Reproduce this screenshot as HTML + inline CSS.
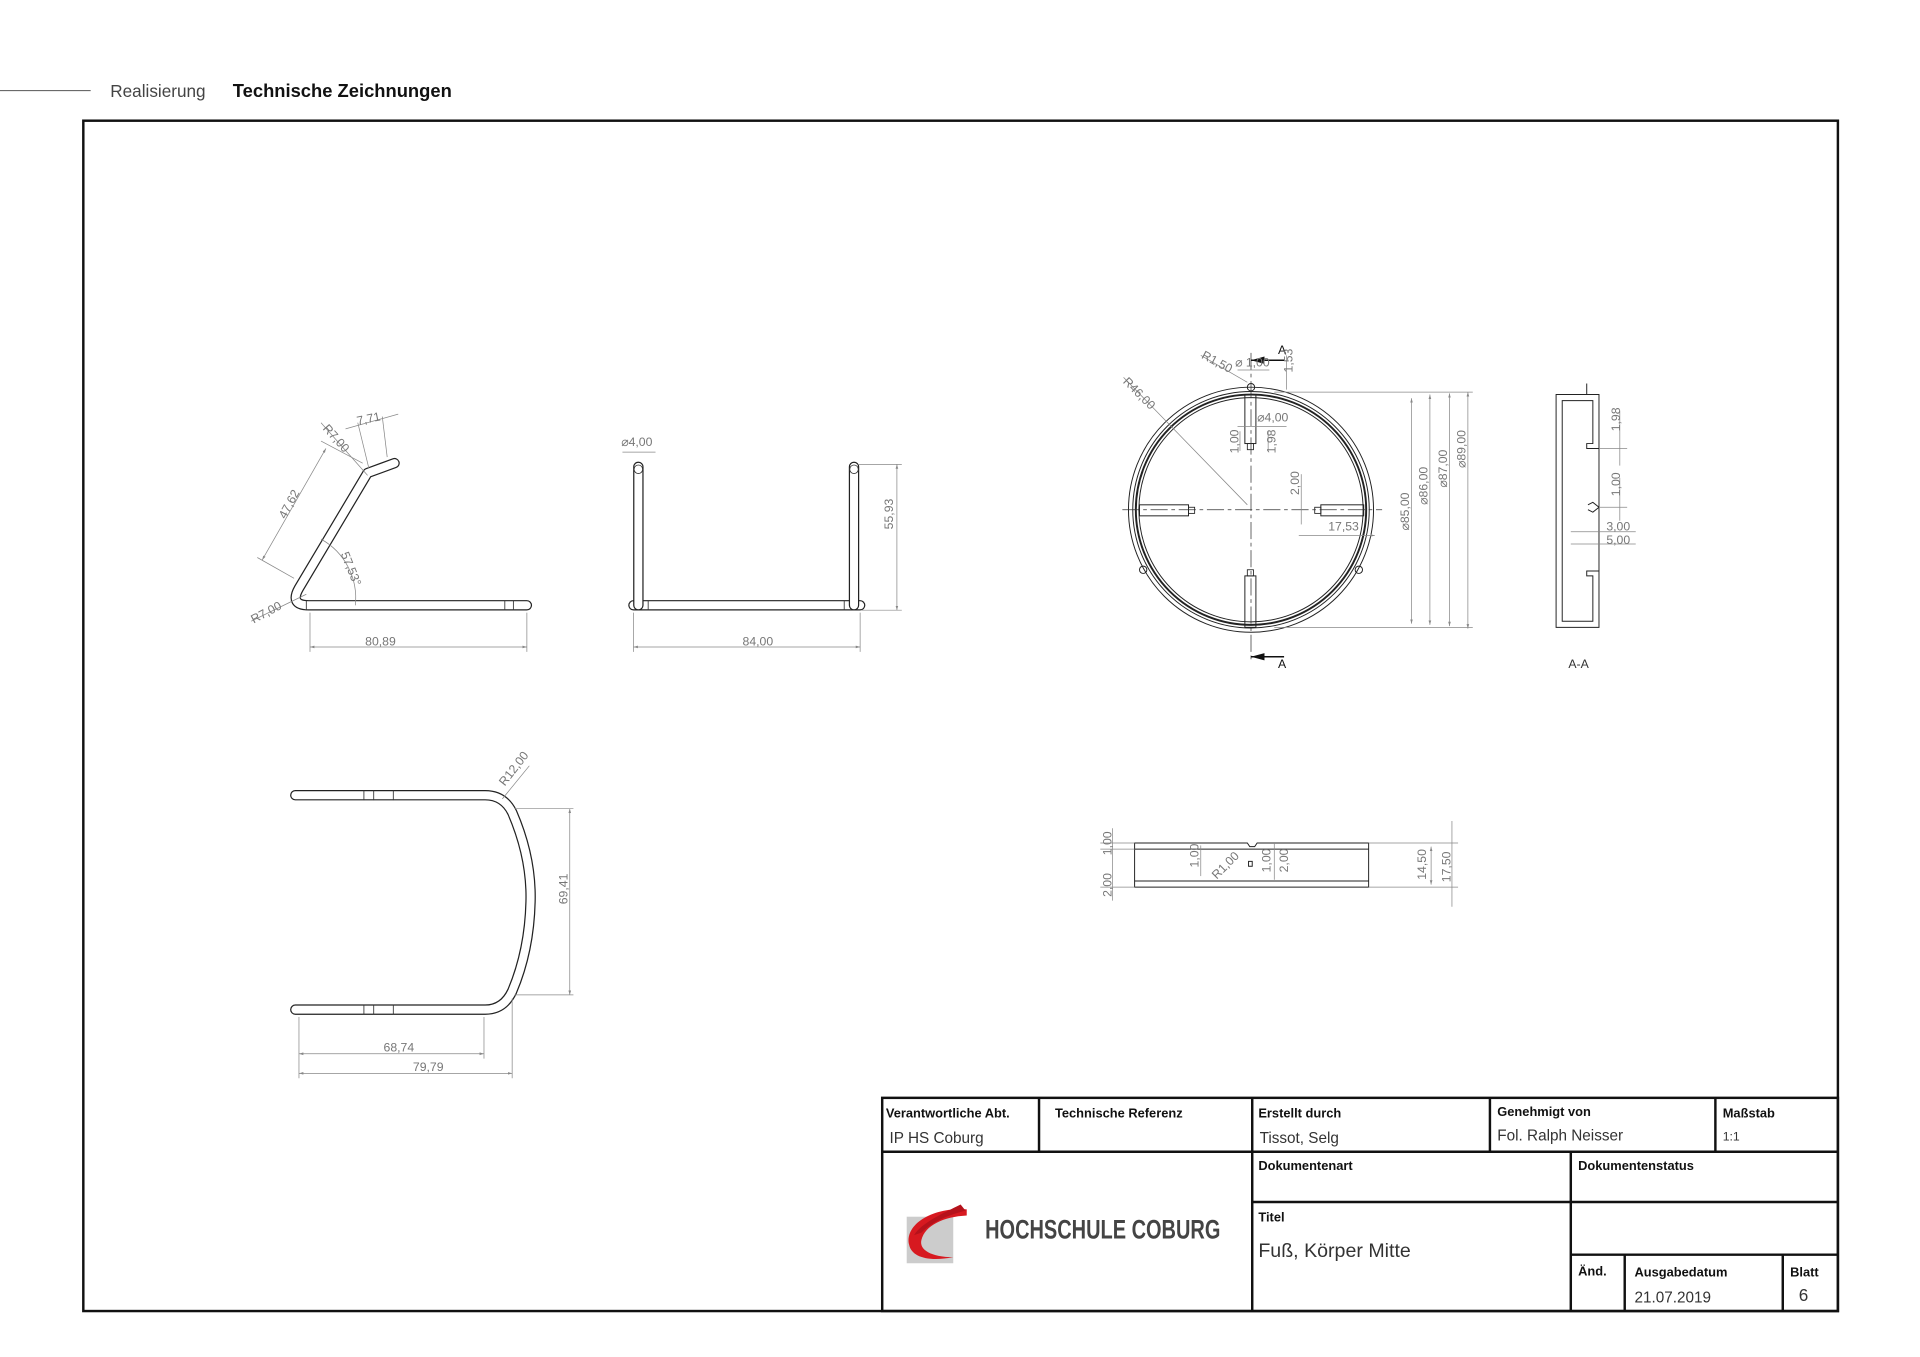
<!DOCTYPE html>
<html><head><meta charset="utf-8"><style>
html,body{margin:0;padding:0;background:#fff}
svg{display:block}
text{font-family:"Liberation Sans",sans-serif}
.d{fill:#777;font-size:10px}
.dl{stroke:#888;stroke-width:.6;fill:none}
.tb{stroke:#111;stroke-width:2;fill:none}
.lab{font-size:10.5px;font-weight:bold;fill:#111}
.val{font-size:12.5px;fill:#333}
</style></head><body>
<svg width="1920" height="1357" viewBox="0 0 1567 1107.5" xmlns="http://www.w3.org/2000/svg">
<defs>
<marker id="a" viewBox="0 0 10 10" refX="10" refY="5" markerWidth="6" markerHeight="6" orient="auto-start-reverse"><path d="M0,2L10,5L0,8z" fill="#888"/></marker>
</defs>
<line x1="0" y1="74" x2="74" y2="74" stroke="#555" stroke-width="0.8"/>
<text x="90" y="79" font-size="14" fill="#444">Realisierung</text>
<text x="190" y="79" font-size="15" font-weight="bold" fill="#111">Technische Zeichnungen</text>
<rect x="68" y="98.5" width="1432" height="971.5" fill="none" stroke="#111" stroke-width="2"/>

<g fill="none" stroke-linecap="round" stroke-linejoin="round">
<path d="M430 494 L252 494 Q236 494 244 480 L300 386 L322 378" stroke="#222" stroke-width="8.5"/>
<path d="M430 494 L252 494 Q236 494 244 480 L300 386 L322 378" stroke="#fff" stroke-width="6.5"/>
<path d="M517 494 L702 494" stroke="#222" stroke-width="8.5"/>
<path d="M517 494 L702 494" stroke="#fff" stroke-width="6.5"/>
<path d="M521 381 L521 494 M697 381 L697 494" stroke="#222" stroke-width="8.5"/>
<path d="M521 381 L521 494 M697 381 L697 494" stroke="#fff" stroke-width="6.5"/>
<path d="M241 649 L396 649 Q411 649 418 663 Q434 700 433 736 Q432 776 418 809 Q411 824 396 824 L241 824" stroke="#222" stroke-width="8.5"/>
<path d="M241 649 L396 649 Q411 649 418 663 Q434 700 433 736 Q432 776 418 809 Q411 824 396 824 L241 824" stroke="#fff" stroke-width="6.5"/>
</g>
<g stroke="#333" stroke-width=".7">
<line x1="412" y1="490" x2="412" y2="498"/><line x1="419" y1="490" x2="419" y2="498"/>
<line x1="250" y1="490" x2="250" y2="498"/><line x1="529" y1="490" x2="529" y2="498"/><line x1="689" y1="490" x2="689" y2="498"/>
<line x1="297" y1="645" x2="297" y2="653"/><line x1="305" y1="645" x2="305" y2="653"/><line x1="321" y1="645" x2="321" y2="653"/>
<line x1="297" y1="820" x2="297" y2="828"/><line x1="305" y1="820" x2="305" y2="828"/><line x1="321" y1="820" x2="321" y2="828"/>
<circle cx="521" cy="383" r="3.5" fill="none"/><circle cx="697" cy="383" r="3.5" fill="none"/>
</g>
<g class="dl">
<line x1="253" y1="500" x2="253" y2="532"/><line x1="430" y1="500" x2="430" y2="532"/>
<line x1="253" y1="528" x2="430" y2="528" marker-start="url(#a)" marker-end="url(#a)"/>
<line x1="240" y1="472" x2="210" y2="455"/><line x1="296" y1="378" x2="262" y2="360"/>
<line x1="214" y1="457" x2="266" y2="366" marker-start="url(#a)" marker-end="url(#a)"/>
<line x1="301" y1="382" x2="292" y2="345"/><line x1="316" y1="373" x2="312" y2="340"/>
<line x1="282" y1="350" x2="325" y2="338"/>
<line x1="262" y1="345" x2="300" y2="388"/>
<line x1="205" y1="507" x2="250" y2="485"/>
<path d="M262 440 A55 55 0 0 1 290 494"/>
</g>
<text class="d" x="298" y="527">80,89</text>
<text class="d" transform="translate(233,424) rotate(-62)">47,62</text>
<text class="d" x="292" y="347" transform="rotate(-12 292 347)">7,71</text>
<text class="d" transform="translate(263,350) rotate(48)">R7,00</text>
<text class="d" transform="translate(278,452) rotate(68)">57,53°</text>
<text class="d" transform="translate(207,509) rotate(-28)">R7,00</text>
<g class="dl">
<line x1="517" y1="500" x2="517" y2="532"/><line x1="702" y1="500" x2="702" y2="532"/>
<line x1="517" y1="528" x2="702" y2="528" marker-start="url(#a)" marker-end="url(#a)"/>
<line x1="700" y1="379" x2="736" y2="379"/><line x1="703" y1="498" x2="736" y2="498"/>
<line x1="732" y1="379" x2="732" y2="498" marker-start="url(#a)" marker-end="url(#a)"/>
<line x1="508" y1="369" x2="535" y2="369"/>
</g>
<text class="d" x="606" y="527">84,00</text>
<text class="d" transform="translate(729,432) rotate(-90)">55,93</text>
<text class="d" x="507" y="364">⌀4,00</text>
<g class="dl">
<line x1="420" y1="660" x2="468" y2="660"/><line x1="420" y1="812" x2="468" y2="812"/>
<line x1="465" y1="660" x2="465" y2="812" marker-start="url(#a)" marker-end="url(#a)"/>
<line x1="244" y1="830" x2="244" y2="880"/><line x1="395" y1="830" x2="395" y2="864"/><line x1="418" y1="815" x2="418" y2="880"/>
<line x1="244" y1="860" x2="395" y2="860" marker-start="url(#a)" marker-end="url(#a)"/>
<line x1="244" y1="876" x2="418" y2="876" marker-start="url(#a)" marker-end="url(#a)"/>
<line x1="410" y1="652" x2="432" y2="625"/>
</g>
<text class="d" transform="translate(463,738) rotate(-90)">69,41</text>
<text class="d" x="313" y="858">68,74</text>
<text class="d" x="337" y="874">79,79</text>
<text class="d" transform="translate(412,642) rotate(-52)">R12,00</text>

<g fill="none" stroke="#222">
<circle cx="1021" cy="416" r="100" stroke-width=".8"/>
<circle cx="1021" cy="416" r="96.5" stroke-width=".8"/>
<circle cx="1021" cy="416" r="94" stroke-width="1.6"/>
<circle cx="1021" cy="416" r="91.5" stroke-width=".8"/>
<rect x="1016" y="322" width="9" height="40" stroke-width=".8"/>
<rect x="1018" y="362" width="5" height="5" stroke-width=".7"/>
<rect x="1016" y="470" width="9" height="42" stroke-width=".8"/>
<rect x="1018" y="465" width="5" height="5" stroke-width=".7"/>
<rect x="930" y="412" width="40" height="9" stroke-width=".8"/>
<rect x="970" y="414" width="5" height="5" stroke-width=".7"/>
<rect x="1078" y="412" width="35" height="9" stroke-width=".8"/>
<rect x="1073" y="414" width="5" height="5" stroke-width=".7"/>
<circle cx="1021" cy="316" r="3" stroke-width=".8"/>
<circle cx="933" cy="465" r="3" stroke-width=".8"/>
<circle cx="1109" cy="465" r="3" stroke-width=".8"/>
</g>
<g stroke="#333" stroke-width=".6" stroke-dasharray="14 3 3 3" fill="none">
<line x1="1021" y1="288" x2="1021" y2="540"/>
<line x1="916" y1="416" x2="1128" y2="416"/>
</g>
<g stroke="#111" stroke-width="1.3"><path d="M1021 294 L1048 294"/><path d="M1021 536 L1048 536"/></g>
<path d="M1021 294 L1032 291 L1032 297z M1021 536 L1032 533 L1032 539z" fill="#111"/>
<text x="1043" y="289" font-size="10" fill="#111">A</text>
<text x="1043" y="545" font-size="10" fill="#111">A</text>
<g class="dl">
<line x1="1040" y1="320" x2="1202" y2="320"/><line x1="1040" y1="512" x2="1202" y2="512"/>
<line x1="1152" y1="325" x2="1152" y2="509" marker-start="url(#a)" marker-end="url(#a)"/>
<line x1="1167" y1="322" x2="1167" y2="510" marker-start="url(#a)" marker-end="url(#a)"/>
<line x1="1183" y1="321" x2="1183" y2="511" marker-start="url(#a)" marker-end="url(#a)"/>
<line x1="1198" y1="320" x2="1198" y2="513" marker-start="url(#a)" marker-end="url(#a)"/>
<line x1="917" y1="308" x2="1018" y2="412"/>
<line x1="980" y1="290" x2="1018" y2="312"/>
<line x1="1050" y1="290" x2="1050" y2="318"/>
<line x1="1010" y1="302" x2="1036" y2="302"/>
<line x1="1010" y1="348" x2="1050" y2="348"/>
<line x1="1012" y1="368" x2="1012" y2="352"/><line x1="1035" y1="368" x2="1035" y2="352"/>
<line x1="1062" y1="387" x2="1062" y2="428"/>
<line x1="1060" y1="437" x2="1122" y2="437" marker-end="url(#a)"/>
</g>
<text class="d" transform="translate(1150,433) rotate(-90)">⌀85,00</text>
<text class="d" transform="translate(1165,412) rotate(-90)">⌀86,00</text>
<text class="d" transform="translate(1181,398) rotate(-90)">⌀87,00</text>
<text class="d" transform="translate(1196,382) rotate(-90)">⌀89,00</text>
<text class="d" transform="translate(916,312) rotate(45)">R46,00</text>
<text class="d" transform="translate(980,292) rotate(28)">R1,50</text>
<text class="d" x="1008" y="299">⌀ 1,00</text>
<text class="d" transform="translate(1055,304) rotate(-90)">1,53</text>
<text class="d" x="1026" y="344">⌀4,00</text>
<text class="d" transform="translate(1011,370) rotate(-90)">1,00</text>
<text class="d" transform="translate(1041,370) rotate(-90)">1,98</text>
<text class="d" transform="translate(1060,404) rotate(-90)">2,00</text>
<text class="d" x="1084" y="433">17,53</text>

<g fill="none" stroke="#222" stroke-width=".8">
<path d="M1270 322 L1270 512 L1305 512 L1305 466 L1295 466 L1295 470 L1300 470 L1300 507 L1275 507 L1275 327 L1300 327 L1300 362 L1295 362 L1295 366 L1305 366 L1305 322 Z"/>
<line x1="1305" y1="366" x2="1305" y2="466"/>
<path d="M1296 412 L1300 410 L1305 414 L1300 418 L1296 416"/>
<line x1="1295" y1="313" x2="1295" y2="322"/>
</g>
<g class="dl">
<line x1="1305" y1="366" x2="1328" y2="366"/><line x1="1322" y1="335" x2="1322" y2="380"/>
<line x1="1305" y1="414" x2="1328" y2="414"/><line x1="1322" y1="390" x2="1322" y2="425"/>
<line x1="1282" y1="434" x2="1335" y2="434"/><line x1="1282" y1="444" x2="1335" y2="444"/>
</g>
<text class="d" transform="translate(1322,352) rotate(-90)">1,98</text>
<text class="d" transform="translate(1322,405) rotate(-90)">1,00</text>
<text class="d" x="1311" y="433">3,00</text>
<text class="d" x="1311" y="444">5,00</text>
<text x="1280" y="545" font-size="10" fill="#333">A-A</text>

<g fill="none" stroke="#222" stroke-width=".8">
<path d="M926 688 L1018 688 L1020 691 L1024 691 L1026 688 L1117 688 L1117 724 L926 724 Z"/>
<line x1="926" y1="693" x2="1117" y2="693"/>
<line x1="926" y1="719" x2="1117" y2="719"/>
<rect x="1019" y="703" width="3" height="4"/>
</g>
<g class="dl">
<line x1="898" y1="688" x2="926" y2="688"/><line x1="898" y1="693" x2="926" y2="693"/><line x1="898" y1="724" x2="926" y2="724"/>
<line x1="908" y1="676" x2="908" y2="735"/>
<line x1="1117" y1="688" x2="1190" y2="688"/><line x1="1117" y1="724" x2="1190" y2="724"/>
<line x1="1168" y1="691" x2="1168" y2="722" marker-start="url(#a)" marker-end="url(#a)"/>
<line x1="1185" y1="670" x2="1185" y2="740"/>
<line x1="980" y1="690" x2="980" y2="715"/>
<line x1="1040" y1="688" x2="1040" y2="718"/>
</g>
<text class="d" transform="translate(907,698) rotate(-90)">1,00</text>
<text class="d" transform="translate(907,732) rotate(-90)">2,00</text>
<text class="d" transform="translate(978,708) rotate(-90)">1,00</text>
<text class="d" transform="translate(993,718) rotate(-45)">R1,00</text>
<text class="d" transform="translate(1037,712) rotate(-90)">1,00</text>
<text class="d" transform="translate(1051,712) rotate(-90)">2,00</text>
<text class="d" transform="translate(1164,718) rotate(-90)">14,50</text>
<text class="d" transform="translate(1184,720) rotate(-90)">17,50</text>

<g class="tb">
<rect x="720" y="896" width="780" height="174"/>
<line x1="720" y1="940" x2="1500" y2="940"/>
<line x1="848" y1="896" x2="848" y2="940"/>
<line x1="1022" y1="896" x2="1022" y2="1070"/>
<line x1="1216" y1="896" x2="1216" y2="940"/>
<line x1="1400" y1="896" x2="1400" y2="940"/>
<line x1="1282" y1="940" x2="1282" y2="1070"/>
<line x1="1022" y1="981" x2="1500" y2="981"/>
<line x1="1282" y1="1024" x2="1500" y2="1024"/>
<line x1="1326" y1="1024" x2="1326" y2="1070"/>
<line x1="1455" y1="1024" x2="1455" y2="1070"/>
</g>
<text class="lab" x="723" y="912">Verantwortliche Abt.</text>
<text class="val" x="726" y="933">IP HS Coburg</text>
<text class="lab" x="861" y="912">Technische Referenz</text>
<text class="lab" x="1027" y="912">Erstellt durch</text>
<text class="val" x="1028" y="933">Tissot, Selg</text>
<text class="lab" x="1222" y="911">Genehmigt von</text>
<text class="val" x="1222" y="931">Fol. Ralph Neisser</text>
<text class="lab" x="1406" y="912">Maßstab</text>
<text x="1406" y="931" font-size="10" fill="#333">1:1</text>
<text class="lab" x="1027" y="955">Dokumentenart</text>
<text class="lab" x="1288" y="955">Dokumentenstatus</text>
<text class="lab" x="1027" y="997">Titel</text>
<text x="1027" y="1026" font-size="16" fill="#333">Fuß, Körper Mitte</text>
<text class="lab" x="1288" y="1041">Änd.</text>
<text class="lab" x="1334" y="1042">Ausgabedatum</text>
<text class="val" x="1334" y="1063">21.07.2019</text>
<text class="lab" x="1461" y="1042">Blatt</text>
<text x="1468" y="1062" font-size="14" fill="#333">6</text>
<rect x="740" y="993" width="38" height="38" fill="#ccc"/>
<path d="M789 987 C760 985 738 1000 742 1016 C744 1026 758 1030 778 1026 C760 1026 750 1020 752 1012 C755 1000 770 993 789 992 Z" fill="#d71920"/>
<path d="M784 983 C770 990 752 998 746 1008 L752 1006 C760 998 772 992 788 988 Z" fill="#b5121b"/>
<text x="804" y="1011" font-size="22" font-weight="bold" fill="#444" textLength="192" lengthAdjust="spacingAndGlyphs">HOCHSCHULE COBURG</text>
</svg>
</body></html>
